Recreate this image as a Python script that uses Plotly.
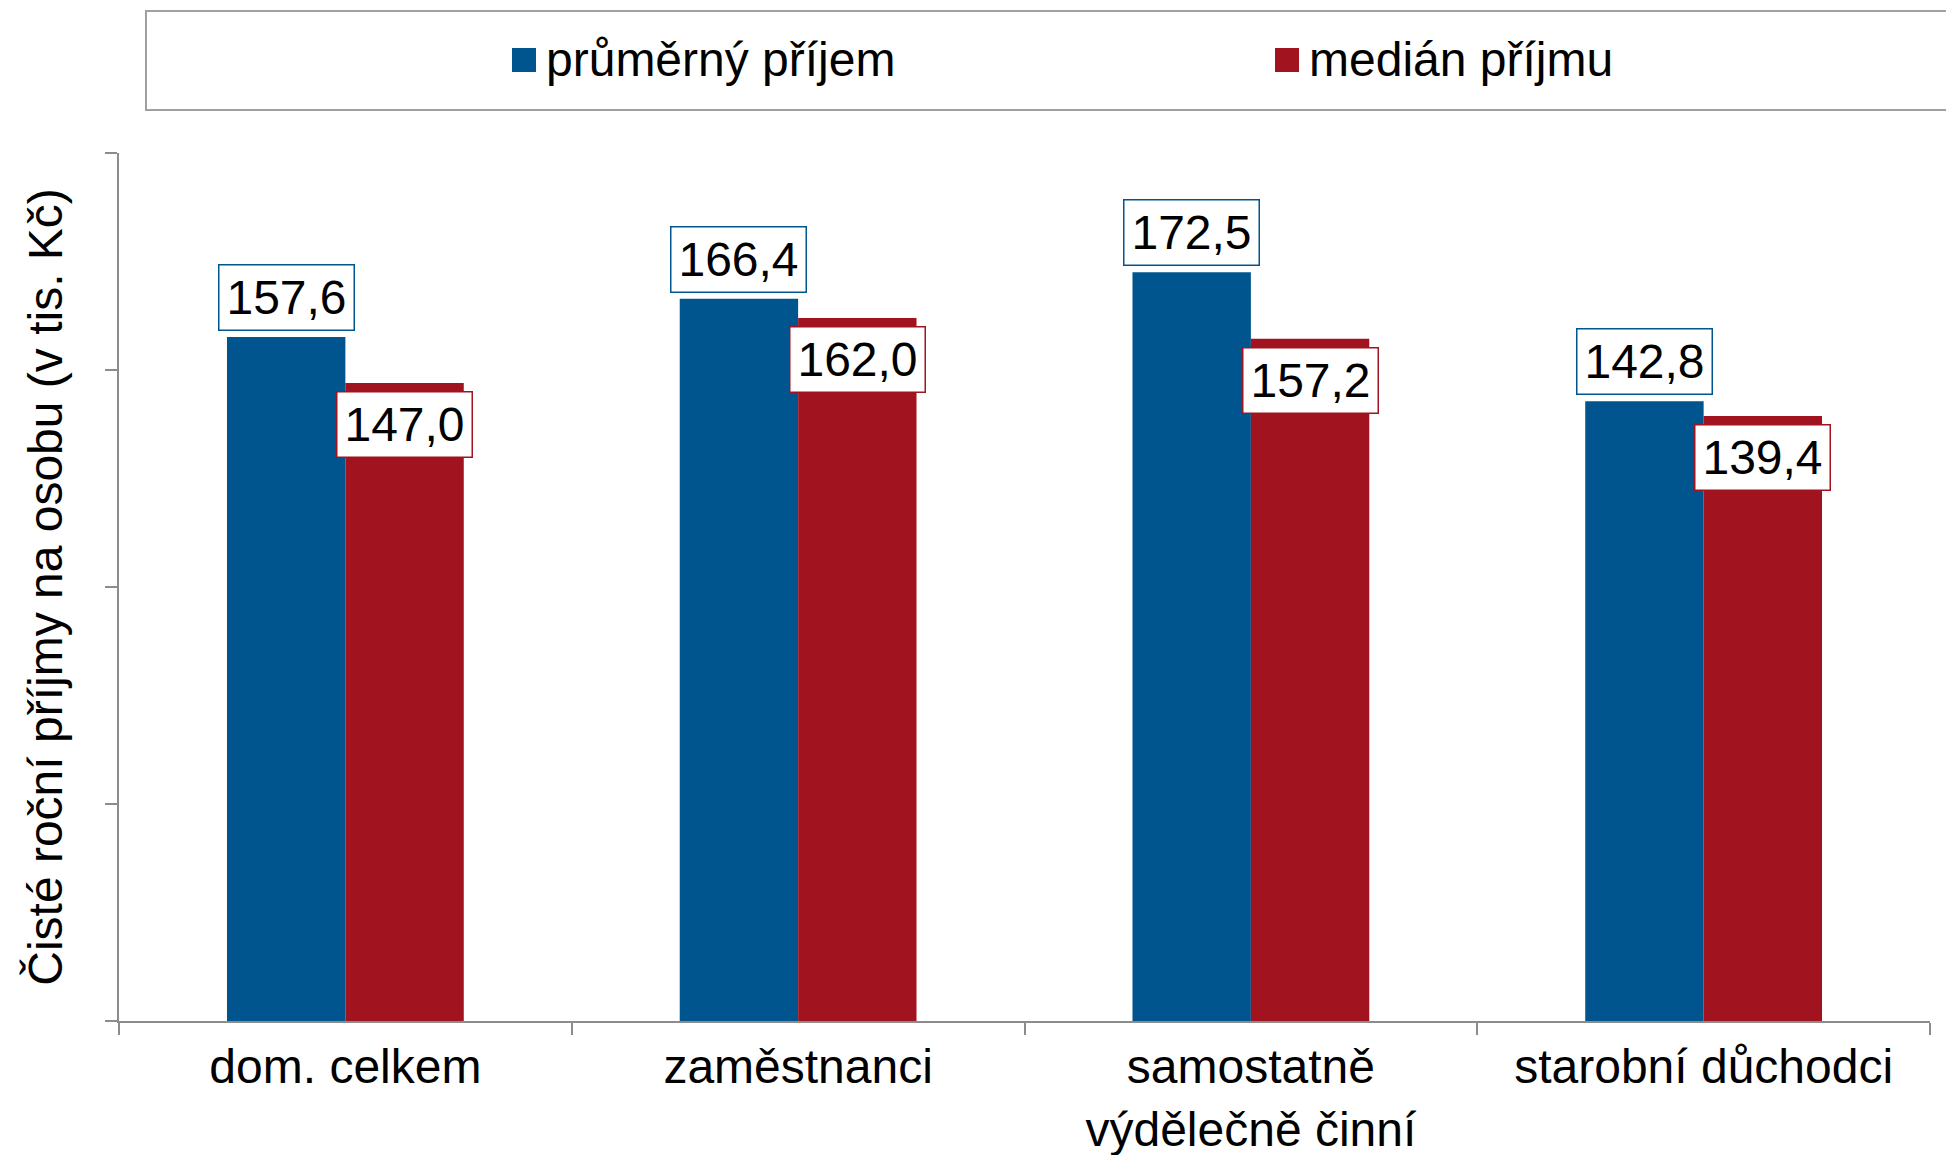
import plotly.graph_objects as go

# kategorie a hodnoty (tis. Kč)
categories = ["dom. celkem", "zaměstnanci", "samostatně<br>výdělečně činní", "starobní důchodci"]
prumer = [157.6, 166.4, 172.5, 142.8]
median = [147.0, 162.0, 157.2, 139.4]
series_names = ["průměrný příjem", "medián příjmu"]

BLUE = "#00558E"
RED = "#A1141F"
FONT = "Liberation Sans, Arial, sans-serif"
FS = 48
BARGAP = 0.477

fig = go.Figure()
fig.add_trace(go.Bar(x=categories, y=prumer, name=series_names[0],
                     marker=dict(color=BLUE, line=dict(width=0))))
fig.add_trace(go.Bar(x=categories, y=median, name=series_names[1],
                     marker=dict(color=RED, line=dict(width=0))))

# popisky hodnot v rámečcích
off = (1 - BARGAP) / 4
for i, v in enumerate(prumer):
    fig.add_annotation(x=i - off, y=v, text=f"{v:.1f}".replace(".", ","),
                       showarrow=False, yanchor="bottom", yshift=6,
                       font=dict(size=FS, color="black", family=FONT),
                       bgcolor="white", bordercolor=BLUE, borderwidth=1.5,
                       borderpad=1, width=132, height=62)
for i, v in enumerate(median):
    fig.add_annotation(x=i + off, y=v, text=f"{v:.1f}".replace(".", ","),
                       showarrow=False, yanchor="top", yshift=-8,
                       font=dict(size=FS, color="black", family=FONT),
                       bgcolor="white", bordercolor=RED, borderwidth=1.5,
                       borderpad=1, width=132, height=62)

# vlastní legenda v rámečku nad grafem
W, L, B, T = 1946, 119, 134, 153
pw, ph = W - L - 16, 1155 - T - B


def px_x(p):
    return (p - L) / pw


def px_y(p):
    return (1155 - B - p) / ph


fig.add_shape(type="rect", xref="paper", yref="paper",
              x0=px_x(146), x1=px_x(1975), y0=px_y(110), y1=px_y(11),
              line=dict(color="#A0A0A0", width=2), fillcolor="white", layer="below")
for sx, color, name in [(512, BLUE, series_names[0]), (1275, RED, series_names[1])]:
    fig.add_shape(type="rect", xref="paper", yref="paper",
                  x0=px_x(sx), x1=px_x(sx + 24), y0=px_y(72), y1=px_y(48),
                  line=dict(width=0), fillcolor=color)
    fig.add_annotation(xref="paper", yref="paper", x=px_x(sx + 32), y=px_y(60),
                       text=name, showarrow=False, xanchor="left", yanchor="middle",
                       font=dict(size=FS, color="black", family=FONT))

fig.update_layout(
    width=1946, height=1155,
    margin=dict(l=L, r=16, t=T, b=B),
    barmode="group", bargap=BARGAP, bargroupgap=0,
    showlegend=False,
    plot_bgcolor="white", paper_bgcolor="white",
    font=dict(family=FONT, size=FS, color="black"),
)
fig.update_xaxes(
    type="category", automargin=False,
    showline=True, linecolor="#8C8C8C", linewidth=1.5,
    ticks="outside", ticklen=12, tickcolor="#8C8C8C", tickwidth=1.5,
    tickson="boundaries", ticklabelstandoff=3,
    showgrid=False, tickfont=dict(size=FS, color="black"),
)
fig.update_yaxes(
    range=[0, 200], dtick=50, showticklabels=False, automargin=False,
    showline=True, linecolor="#8C8C8C", linewidth=1.5,
    ticks="outside", ticklen=12, tickcolor="#8C8C8C", tickwidth=1.5,
    showgrid=False, zeroline=False,
    title=dict(text="Čisté roční příjmy na osobu (v tis. Kč)", standoff=27,
               font=dict(size=FS, color="black")),
)

fig.write_html("out.html", config={"displayModeBar": False},
               post_script="document.body.style.margin='0';")
